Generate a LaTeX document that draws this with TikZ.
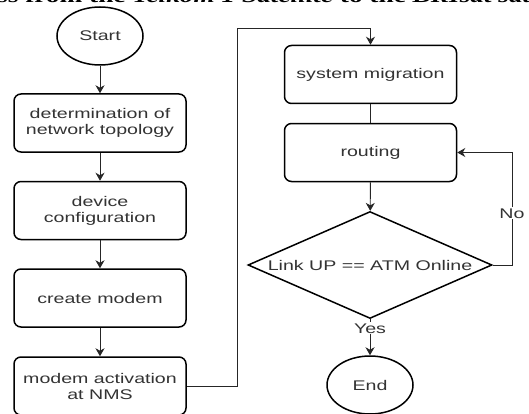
\documentclass[tikz,border=0pt]{standalone}
\usepackage{fontspec}
\usetikzlibrary{shapes.geometric,arrows.meta}
\newfontfamily\chartfont[FakeStretch=1.4]{Liberation Sans}
\newfontfamily\captionfont[FakeStretch=1.4]{Liberation Serif}
\definecolor{labelgray}{HTML}{333333}
\tikzset{
  x=1pt, y=1pt,
  every node/.style={font=\chartfont\fontsize{14}{16}\selectfont, text=labelgray, align=center},
  stepbox/.style={draw=black, line width=1.5pt, rounded corners=7pt,
                  minimum width=172pt, minimum height=58pt, inner sep=0pt},
  terminal/.style={draw=black, line width=1.5pt, ellipse,
                   minimum width=86pt, minimum height=58pt, inner sep=0pt},
  decision/.style={draw=black, line width=1.5pt, diamond, aspect=2.28,
                   minimum width=244pt, minimum height=107pt, inner sep=0pt},
  flow/.style={draw=black!85, line width=0.9pt,
               -{Stealth[length=8pt,width=9pt,inset=2.5pt]}},
  plain/.style={draw=black!85, line width=0.9pt},
  edgelabel/.style={fill=white, inner sep=1pt}
}
\begin{document}
\begin{tikzpicture}
\useasboundingbox (0,0) rectangle (529,413);

% caption line, cut by the top edge of the page
\node[anchor=base west, inner sep=0pt, text=black,
      font=\captionfont\bfseries\fontsize{19.5}{21}\selectfont]
  (caption) at (-3,410) {ss from the \textit{Telkom 1 Satellite} to the \textit{BRIsat satellite}};

% left column
\node[terminal] (start) at (100,377) {Start};
\node[stepbox] (topo) at (100,290) {determination of\\network topology};
\node[stepbox] (conf) at (100,202.5) {device\\configuration};
\node[stepbox] (modem) at (100,115) {create modem};
\node[stepbox] (activ) at (100,27) {modem activation\\at NMS};

% right column
\node[stepbox] (migr) at (370.5,338.5) {system migration};
\node[stepbox] (route) at (370.5,260.5) {routing};
\node[decision] (check) at (370,148) {Link UP == ATM Online};
\node[terminal] (finish) at (370,28) {End};

\coordinate (upleft) at (237,385);
\coordinate (noturn) at (512,148);

% connectors
\draw[flow] (start) -- (topo);
\draw[flow] (topo) -- (conf);
\draw[flow] (conf) -- (modem);
\draw[flow] (modem) -- (activ);
\draw[flow] (activ.east) -| (upleft) -| (migr.north);
\draw[plain] (migr) -- (route);
\draw[flow] (route) -- (check);
\draw[flow] (check.east) -- (noturn) |- (route.east)
  node[edgelabel, pos=0.23] {No};
\draw[flow] (check.south) -- (finish.north)
  node[edgelabel, pos=0.25] {Yes};
\end{tikzpicture}
\end{document}
